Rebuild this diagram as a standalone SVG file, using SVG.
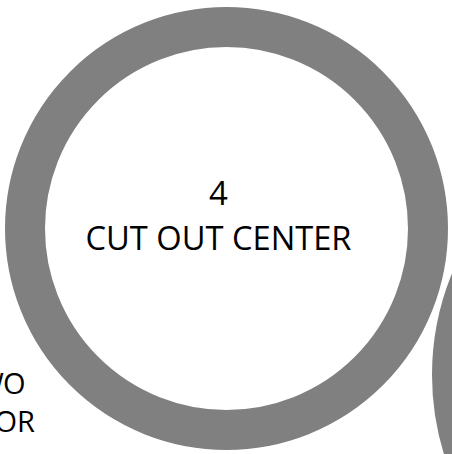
<svg xmlns="http://www.w3.org/2000/svg" width="452" height="454" viewBox="0 0 452 454">
<style>
.ring{fill:none;stroke:#808080;stroke-width:40}
.lbl{font-family:"Open Sans","Noto Sans",sans-serif;fill:#000}
</style>
<rect width="452" height="454" fill="#fff"/>
<g id="node-left">
<text class="lbl" font-size="29" y="394"><tspan x="-23">W</tspan><tspan x="3">O</tspan></text>
<text class="lbl" font-size="29" x="35" y="432" text-anchor="end">OR</text>
</g>
<g id="node-4">
<circle class="ring" cx="226.5" cy="228.5" r="201.5"/>
<text class="lbl" font-size="33" x="218.5" y="205" text-anchor="middle">4</text>
<text class="lbl" font-size="33" x="218.5" y="250" text-anchor="middle" textLength="266" lengthAdjust="spacingAndGlyphs">CUT OUT CENTER</text>
</g>
<g id="node-right">
<circle class="ring" cx="700" cy="375" r="248"/>
</g>
<g id="connectors"/>
</svg>
